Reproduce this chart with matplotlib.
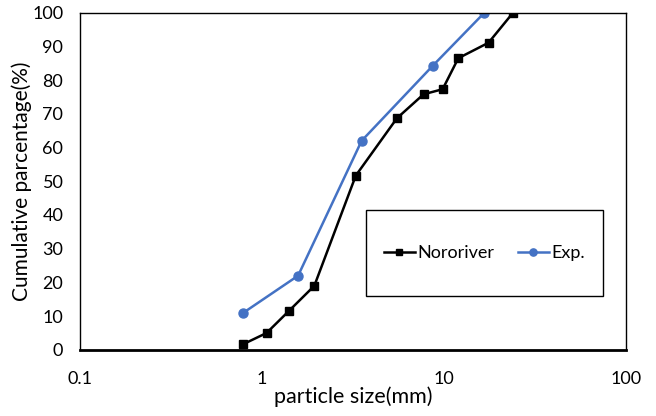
import matplotlib.pyplot as plt
from matplotlib.patches import Rectangle

plt.rcParams['font.family'] = ['Lato', 'DejaVu Sans']

noro_size = [0.79, 1.06, 1.41, 1.94, 3.28, 5.52, 7.73, 9.84, 12.0, 17.6, 24.0]
noro_pct = [1.7, 5.0, 11.6, 19.0, 51.7, 68.7, 75.8, 77.3, 86.5, 91.1, 100]
exp_size = [0.79, 1.58, 3.53, 8.7, 16.7]
exp_pct = [11, 22, 62, 84.3, 100]

fig = plt.figure(figsize=(6.56, 4.16), dpi=100)
ax = fig.add_axes([0.122, 0.159, 0.832, 0.8105])

ax.plot(noro_size, noro_pct, color='black', marker='s', markersize=6, linewidth=1.8, label='Nororiver')
ax.plot(exp_size, exp_pct, color='#4472C4', marker='o', markersize=6.5, linewidth=1.8, label='Exp.')

ax.set_xscale('log')
ax.set_xlim(0.1, 100)
ax.set_ylim(0, 100)
ax.set_xticks([0.1, 1, 10, 100])
ax.set_xticklabels(['0.1', '1', '10', '100'])
ax.set_yticks(range(0, 101, 10))
ax.minorticks_off()
ax.tick_params(length=0, labelsize=13)
ax.tick_params(axis='x', pad=15)
ax.tick_params(axis='y', pad=12)

for s in ax.spines.values():
    s.set_color('black')
    s.set_linewidth(1)
ax.spines['bottom'].set_linewidth(2)

ax.set_xlabel('particle size(mm)', fontsize=15.5, labelpad=0)
ax.set_ylabel('Cumulative parcentage(%)', fontsize=15, labelpad=0)

# legend box like the Excel one
ax.add_patch(Rectangle((0.524, 0.16), 0.434, 0.255, transform=ax.transAxes,
                       fill=False, edgecolor='black', linewidth=1, zorder=3))
ax.legend(loc='center', bbox_to_anchor=(0.524, 0.16, 0.434, 0.255), ncol=2,
          frameon=False, fontsize=13, handlelength=1.7, handletextpad=0.15,
          columnspacing=1.3, markerscale=0.8)

fig.savefig('out.png', dpi=100)
